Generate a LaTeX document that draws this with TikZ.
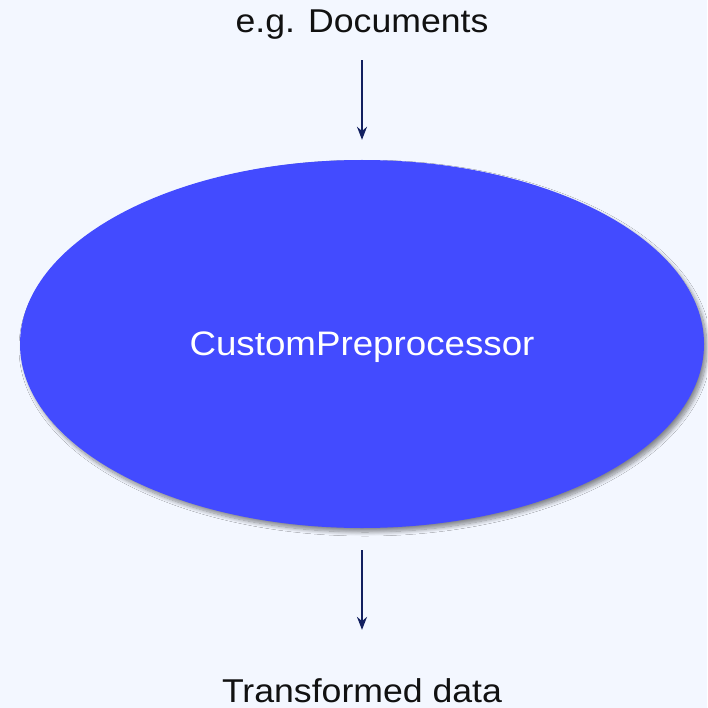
\documentclass[tikz,border=0pt]{standalone}
\usepackage{fontspec}
\setmainfont{Liberation Sans}[FakeStretch=1.08]
\usetikzlibrary{shapes.geometric,arrows.meta,shadows.blur}
\definecolor{bgblue}{RGB}{243,247,255}
\definecolor{procblue}{RGB}{67,75,255}
\definecolor{flownavy}{RGB}{18,32,96}
\definecolor{labelgray}{RGB}{17,17,17}

\begin{document}
\begin{tikzpicture}[x=1pt, y=-1pt,
    label/.style = {inner sep=0pt, text=labelgray, font=\fontsize{33}{40}\selectfont},
    proc/.style = {ellipse, fill=procblue, inner sep=0pt, minimum width=684pt, minimum height=368pt,
        text=white, text depth=0pt, font=\fontsize{34}{40}\selectfont,
        blur shadow={shadow xshift=3pt, shadow yshift=-4pt, shadow blur radius=4pt,
            shadow blur steps=10, shadow opacity=45}},
    flow/.style = {draw=flownavy, line width=1.8pt, -{Stealth[length=13pt, width=10pt]}}]
    \fill[bgblue] (0,0) rectangle (707,708);

    % Nodes
    \node[label, anchor=base] (docs) at (362,33) {e.g. Documents};
    \node[proc] (prep) at (362,344) {CustomPreprocessor};
    \node[label, anchor=base] (data) at (362,702) {Transformed data};

    % Lines
    \draw[flow, shorten <=20pt, shorten >=20pt] (docs) -- (prep);
    \draw[flow, shorten <=22pt, shorten >=48pt] (prep) -- (data);
\end{tikzpicture}
\end{document}
